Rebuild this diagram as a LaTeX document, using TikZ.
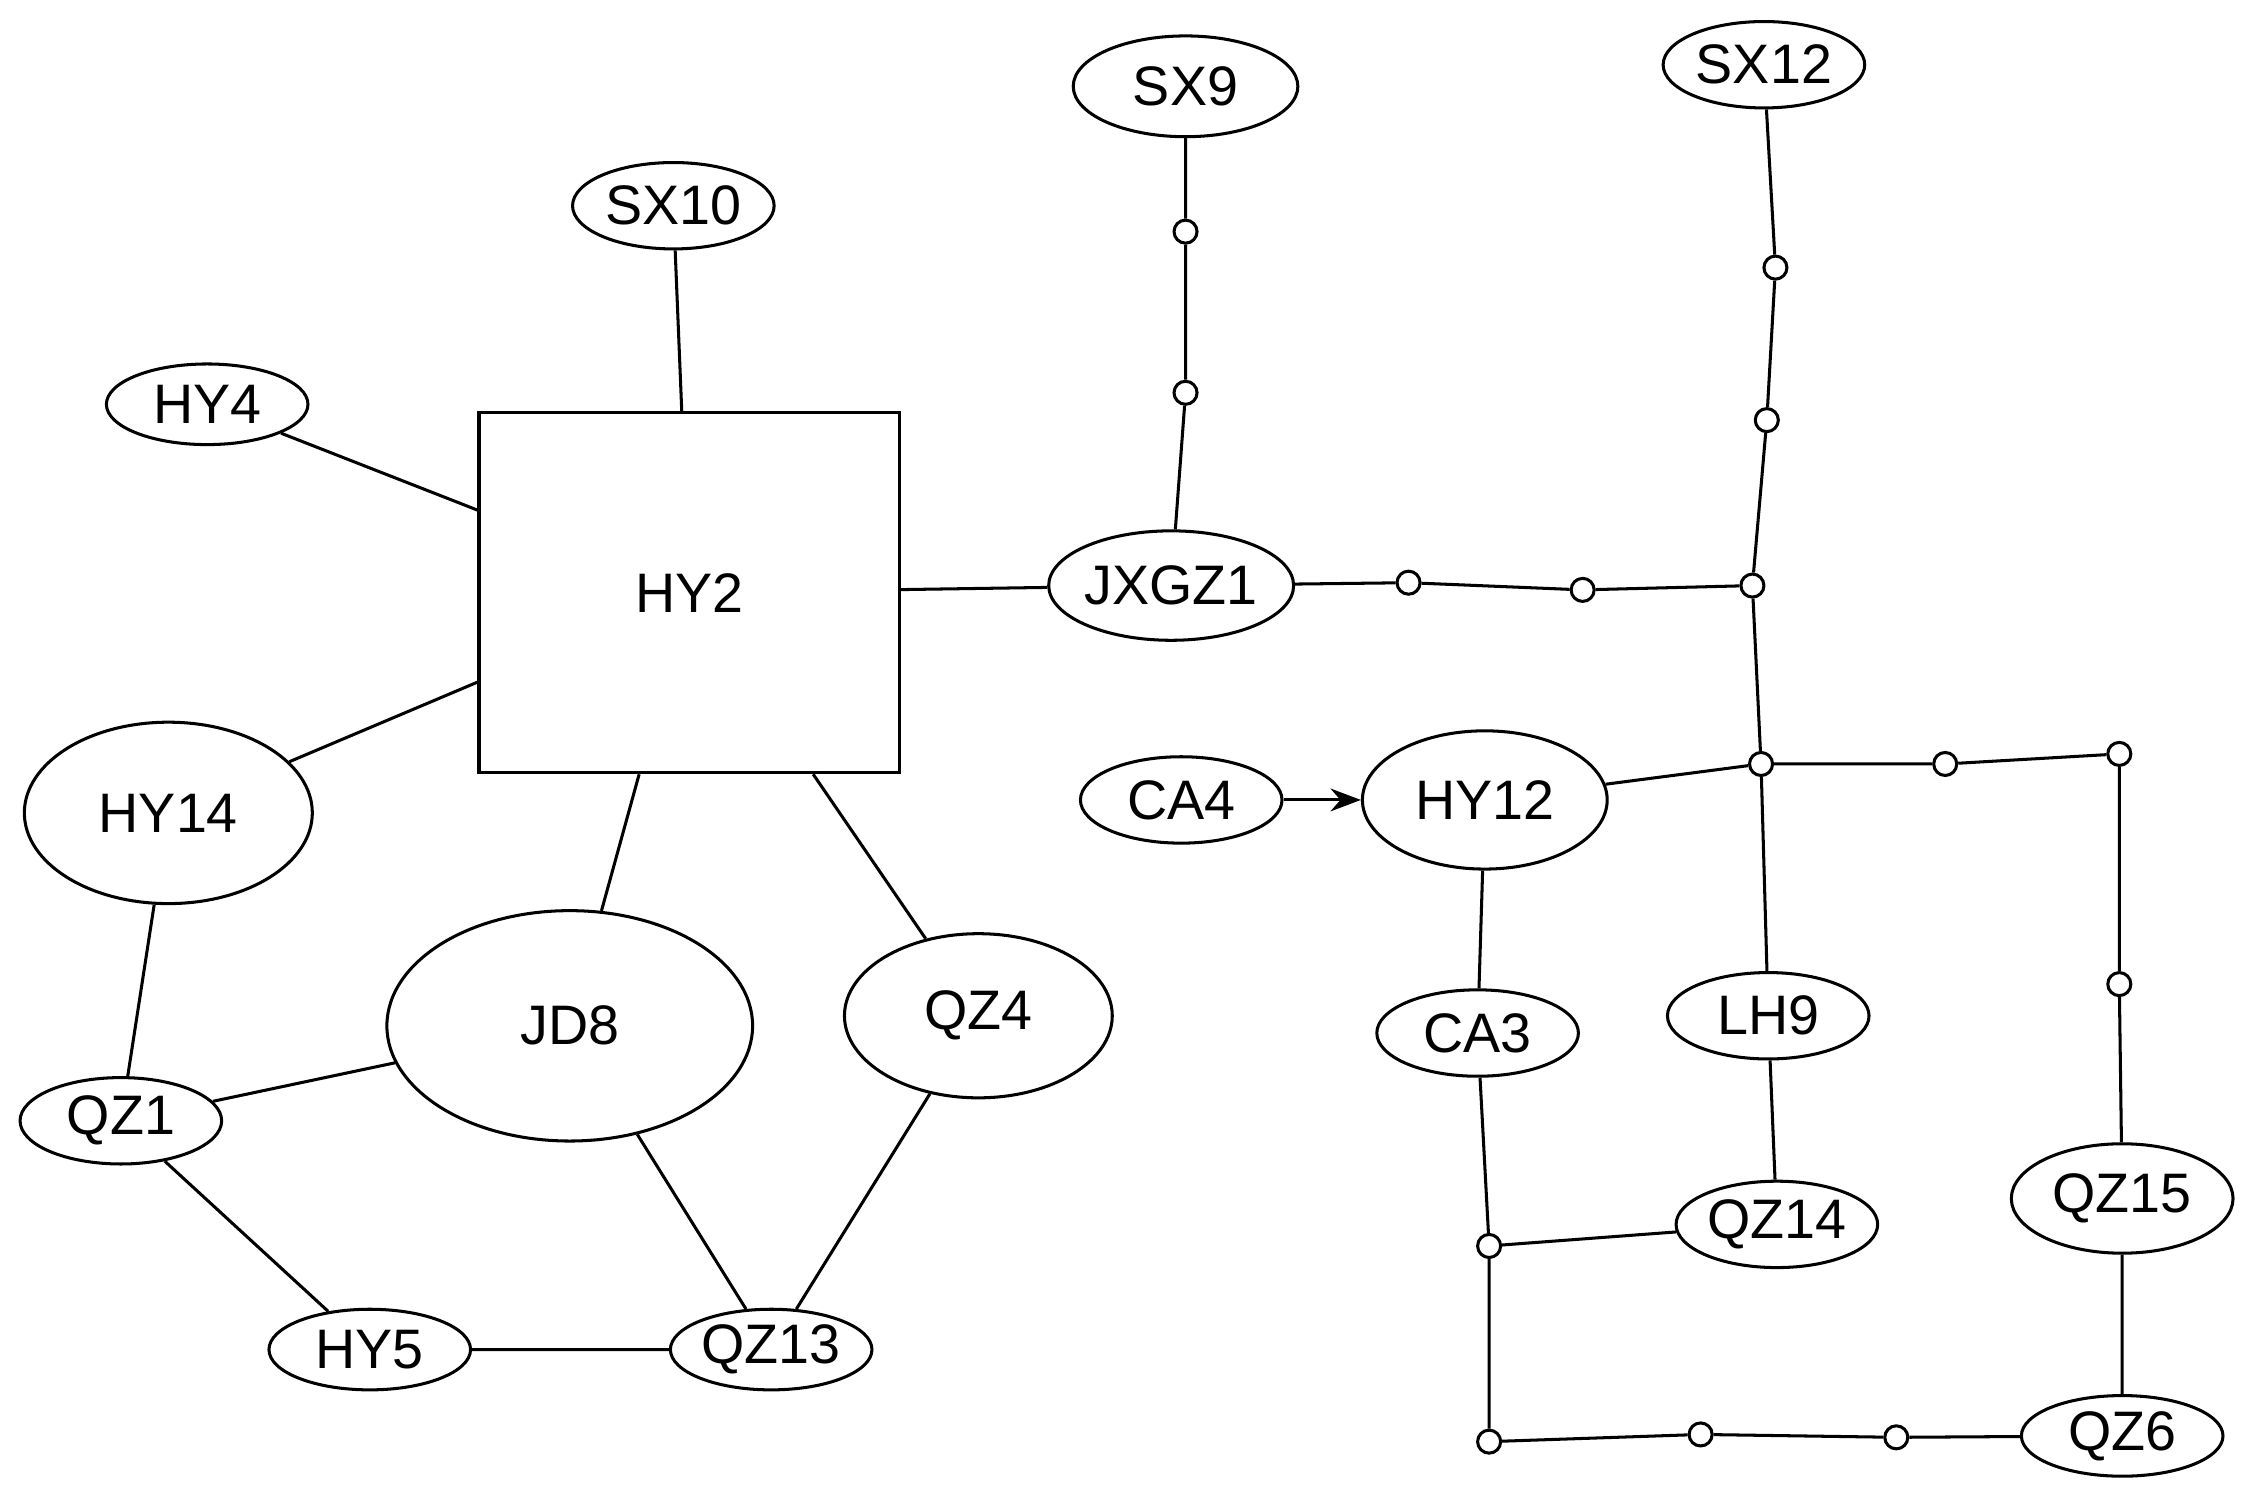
\documentclass[tikz,border=0pt]{standalone}
\usepackage{fontspec}
\setmainfont{Liberation Sans}
\usetikzlibrary{shapes.geometric,arrows.meta}
\begin{document}
\begin{tikzpicture}[x=0.01cm,y=-0.01cm,
  hap/.style={draw,ellipse,inner sep=0pt,line width=0.6pt,font=\fontsize{11}{13}\selectfont},
  mv/.style={draw,circle,inner sep=0pt,minimum size=0.16cm,fill=white,line width=0.6pt},
  every path/.style={line width=0.6pt}]
\useasboundingbox (0,0) rectangle (1568,1040);
\node[draw,minimum width=2.92cm,minimum height=2.5cm,inner sep=0pt,font=\fontsize{11}{13}\selectfont,line width=0.6pt] (HY2) at (479,412) {HY2};
\newcommand{\hp}[5]{\node[hap,minimum width=#4*0.02cm,minimum height=#5*0.02cm] (#1) at (#2,#3) {#1};}
\hp{SX9}{824}{60}{78}{35}
\hp{SX12}{1226}{45}{70}{30}
\hp{SX10}{468}{143}{70}{30}
\hp{HY4}{144}{281}{70}{28}
\hp{JXGZ1}{814}{407}{75}{38}
\hp{HY14}{117}{565}{100}{63}
\hp{CA4}{821}{556}{70}{30}
\hp{HY12}{1032}{556}{85}{48}
\hp{JD8}{396}{713}{127}{80}
\hp{QZ4}{680}{706}{93}{57}
\hp{CA3}{1027}{718}{70}{30}
\hp{LH9}{1229}{706}{70}{30}
\hp{QZ1}{84}{779}{70}{30}
\hp{QZ14}{1235}{851}{70}{30}
\hp{QZ15}{1475}{833}{77}{38}
\hp{HY5}{257}{938}{70}{28}
\hp{QZ13}{536}{938}{70}{28}
\hp{QZ6}{1475}{998}{70}{28}
\node[mv] (s1) at (824,161) {};
\node[mv] (s2) at (824,273) {};
\node[mv] (s3) at (1234,186) {};
\node[mv] (s4) at (1228,292) {};
\node[mv] (j1) at (1218,407) {};
\node[mv] (s5) at (979,405) {};
\node[mv] (s6) at (1100,410) {};
\node[mv] (j2) at (1224,531) {};
\node[mv] (s7) at (1352,531) {};
\node[mv] (s8) at (1473,524) {};
\node[mv] (s9) at (1473,684) {};
\node[mv] (j3) at (1035,866) {};
\node[mv] (j4) at (1035,1002) {};
\node[mv] (s10) at (1182,997) {};
\node[mv] (s11) at (1318,999) {};
\draw (SX10)--(HY2) (HY4)--(HY2) (HY14)--(HY2) (HY2)--(JXGZ1) (HY2)--(JD8) (HY2)--(QZ4)
 (HY14)--(QZ1) (QZ1)--(JD8) (QZ1)--(HY5) (HY5)--(QZ13) (JD8)--(QZ13) (QZ4)--(QZ13)
 (SX9)--(s1)--(s2)--(JXGZ1) (SX12)--(s3)--(s4)--(j1)
 (JXGZ1)--(s5)--(s6)--(j1)--(j2) (HY12)--(j2)--(s7)--(s8)--(s9)--(QZ15)--(QZ6)
 (j2)--(LH9)--(QZ14) (HY12)--(CA3)--(j3)--(QZ14) (j3)--(j4)--(s10)--(s11)--(QZ6);
\draw[-{Stealth[length=6pt]}] (CA4)--(HY12);
\end{tikzpicture}
\end{document}
